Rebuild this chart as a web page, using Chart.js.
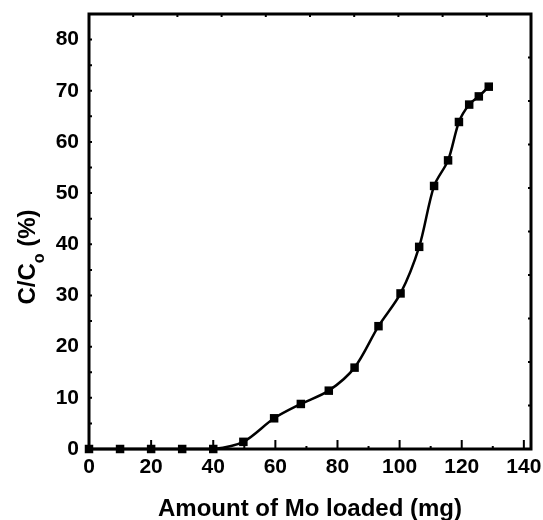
<!DOCTYPE html>
<html>
<head>
<meta charset="utf-8">
<script src="https://cdn.jsdelivr.net/npm/chart.js@4.4.1/dist/chart.umd.min.js"></script>
<style>
  html, body { margin: 0; padding: 0; background: #fff; }
  #wrap { width: 543px; height: 520px; }
</style>
</head>
<body>
<div id="wrap"><canvas id="chart" width="543" height="520"></canvas></div>
<script>
  // data
  var moLoaded = [0, 10, 20, 30, 40, 49.7, 59.6, 68.2, 77.2, 85.5, 93.2, 100.3, 106.3, 111.1, 115.6, 119.1, 122.4, 125.5, 128.7];
  var ratio = [0, 0, 0, 0, 0, 1.4, 6, 8.8, 11.4, 15.9, 24, 30.4, 39.5, 51.4, 56.4, 63.9, 67.3, 68.9, 70.8];
  var xTickValues = [0, 20, 40, 60, 80, 100, 120, 140];
  var yTickValues = [0, 10, 20, 30, 40, 50, 60, 70, 80];

  var FONT = "'Liberation Sans', Arial, sans-serif";

  var points = moLoaded.map(function (x, i) { return {x: x, y: ratio[i]}; });

  // inward ticks, frame and the two axis titles
  var framePlugin = {
    id: 'frame',
    beforeDatasetsDraw: function (chart) {
      var ctx = chart.ctx, a = chart.chartArea;
      var xs = chart.scales.x, ys = chart.scales.y;
      ctx.save();
      ctx.strokeStyle = '#000';
      ctx.lineWidth = 2;
      ctx.beginPath();
      // bottom: major every 20, minor every 10
      for (var v = 0; v <= 140; v += 10) {
        var px = xs.getPixelForValue(v);
        var len = (v % 20 === 0) ? 9 : 3;
        ctx.moveTo(px, a.bottom);
        ctx.lineTo(px, a.bottom - len);
      }
      // left: every 5
      for (var w = 0; w <= 85; w += 5) {
        var py = ys.getPixelForValue(w);
        ctx.moveTo(a.left, py);
        ctx.lineTo(a.left + 3, py);
      }
      // top and right: ten equal divisions
      for (var k = 1; k < 10; k++) {
        var tx = a.left + (a.right - a.left) * k / 10;
        ctx.moveTo(tx, a.top);
        ctx.lineTo(tx, a.top + 3);
        var ty = a.bottom - (a.bottom - a.top) * k / 10;
        ctx.moveTo(a.right, ty);
        ctx.lineTo(a.right - 3, ty);
      }
      ctx.stroke();
      ctx.lineWidth = 3;
      ctx.strokeRect(a.left, a.top, a.right - a.left, a.bottom - a.top);
      ctx.restore();
    },
    afterDraw: function (chart) {
      var ctx = chart.ctx, a = chart.chartArea;
      ctx.save();
      ctx.fillStyle = '#000';
      // x title
      ctx.font = 'bold 24px ' + FONT;
      ctx.textAlign = 'center';
      ctx.textBaseline = 'alphabetic';
      ctx.fillText('Amount of Mo loaded (mg)', (a.left + a.right) / 2, 516);
      // y title with subscript
      var big = 'bold 24px ' + FONT, small = 'bold 16px ' + FONT;
      ctx.font = big;
      var w1 = ctx.measureText('C/C').width;
      var w3 = ctx.measureText(' (%)').width;
      ctx.font = small;
      var w2 = ctx.measureText('o').width;
      var total = w1 + w2 + w3;
      ctx.translate(35, 257 + total / 2);
      ctx.rotate(-Math.PI / 2);
      ctx.textAlign = 'left';
      ctx.font = big;
      ctx.fillText('C/C', 0, 0);
      ctx.font = small;
      ctx.fillText('o', w1, 9);
      ctx.font = big;
      ctx.fillText(' (%)', w1 + w2, 0);
      ctx.restore();
    }
  };

  new Chart('chart', {
    type: 'line',
    data: {
      datasets: [{
        data: points,
        borderColor: '#000',
        backgroundColor: '#000',
        borderWidth: 2.5,
        tension: 0.3,
        pointStyle: 'rect',
        pointRadius: 6,
        pointHoverRadius: 6,
        pointBorderWidth: 0,
        clip: false
      }]
    },
    options: {
      responsive: false,
      animation: false,
      events: [],
      layout: {padding: {top: 14, right: 12, left: 0, bottom: 0}},
      plugins: {legend: {display: false}, tooltip: {enabled: false}},
      scales: {
        x: {
          type: 'linear',
          min: 0,
          max: 142.3,
          afterBuildTicks: function (s) { s.ticks = xTickValues.map(function (v) { return {value: v}; }); },
          afterFit: function (s) { s.height = 71; s.paddingLeft = 0; s.paddingRight = 0; },
          grid: {display: false, drawTicks: false},
          border: {display: false},
          ticks: {
            color: '#000',
            padding: 6,
            maxRotation: 0,
            font: {family: FONT, size: 21, weight: 'bold'}
          }
        },
        y: {
          type: 'linear',
          min: 0,
          max: 85,
          afterBuildTicks: function (s) { s.ticks = yTickValues.map(function (v) { return {value: v}; }); },
          afterFit: function (s) { s.width = 89; s.paddingTop = 0; s.paddingBottom = 0; },
          grid: {display: false, drawTicks: false},
          border: {display: false},
          ticks: {
            color: '#000',
            padding: 10,
            font: {family: FONT, size: 21, weight: 'bold'}
          }
        }
      }
    },
    plugins: [framePlugin]
  });
</script>
</body>
</html>
